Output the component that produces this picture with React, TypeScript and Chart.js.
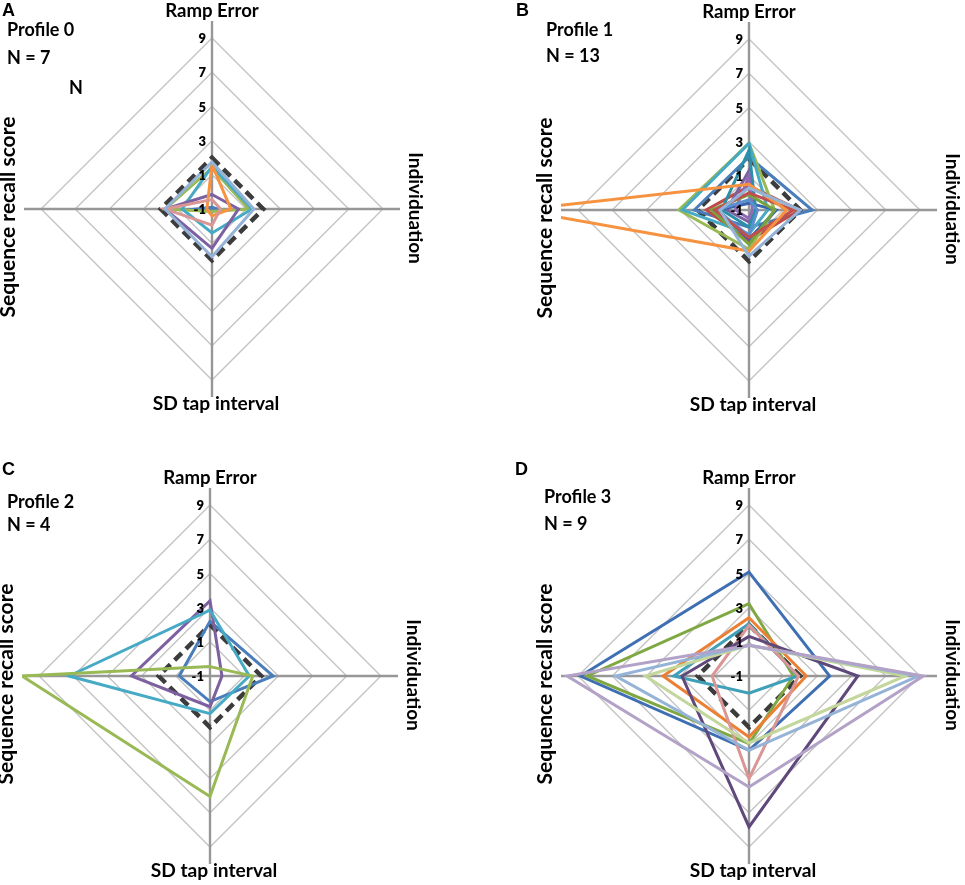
import React, { useEffect, useRef } from 'react';
import { Chart, registerables } from 'chart.js';

Chart.register(...registerables);

// ---------- shared axis data ----------
const axisLabels = ['Ramp Error', 'Individuation', 'SD tap interval', 'Sequence recall score'];
const tickValues = [-1, 1, 3, 5, 7, 9];
const scaleMin = -1;
const scaleMax = 10;
const referenceLine = [2, 2, 2, 2];

// ---------- Profile 0 (N = 7) ----------  [Ramp, Individuation, SD tap, Sequence]
const profile0Colors = ['#4A7EBB', '#98B954', '#46AAC5', '#7D60A0', '#F69240', '#D99694', '#95B3D7'];
const profile0Values = [
  [-0.9, -0.7, -0.9, -0.1],
  [1.4, 1.15, -0.85, 1.75],
  [1.5, 1.35, 0.4, 0.75],
  [-0.15, 0.55, 1.3, 1.75],
  [1.6, 0.1, -0.6, -0.7],
  [-0.45, -0.5, -0.05, 1.75],
  [1.75, 1.45, 1.8, 1.75],
];

// ---------- Profile 1 (N = 13) ----------
const profile1Colors = [
  '#4A7EBB', '#BE4B48', '#98B954', '#7D60A0', '#46AAC5', '#3B64AD', '#2C8FA8',
  '#8E6BB5', '#77A33F', '#5B8FD0', '#C0504D', '#F69240', '#95B3D7',
];
const profile1Values = [
  [2.1, 2.7, 0.0, 2.2],
  [0.4, 1.95, 0.8, 1.5],
  [2.9, 0.5, 1.3, 3.1],
  [1.3, -0.6, -0.3, 0.3],
  [2.9, 0.1, 0.4, 2.9],
  [-0.6, 0.6, 0.7, 0.8],
  [2.5, -0.6, 0.0, 0.6],
  [1.0, -0.8, -0.5, -0.2],
  [-0.1, 0.5, 1.0, 1.2],
  [-0.4, -0.5, 0.5, 0.9],
  [0.0, 1.6, 0.6, 1.0],
  [0.5, 1.2, 1.4, 12.5],
  [0.3, 2.0, 1.7, 0.7],
];

// ---------- Profile 2 (N = 4) ----------
const profile2Colors = ['#4A7EBB', '#7D60A0', '#46AAC5', '#98B954'];
const profile2Values = [
  [2.2, 2.7, 0.5, 0.8],
  [3.4, -0.3, 0.8, 3.6],
  [2.85, 1.3, 1.2, 7.25],
  [-0.45, 1.5, 6.05, 10],
];

// ---------- Profile 3 (N = 9) ----------
const profile3Colors = ['#3F6FB3', '#7FA843', '#EB8035', '#3FA0B8', '#D99694', '#5F497A', '#C3D69B', '#95B3D7', '#B3A2C7'];
const profile3Values = [
  [5.08, 3.72, 3.35, 8.86],
  [3.23, 1.6, 2.96, 8.47],
  [2.41, 2.35, 2.57, 4.03],
  [2.06, 1.85, 0.0, 3.4],
  [1.96, 1.9, 5.0, 1.16],
  [1.32, 5.37, 7.83, 2.92],
  [0.8, 8.14, 2.92, 5.06],
  [0.8, 8.9, 3.35, 6.8],
  [0.8, 9.2, 5.5, 9.64],
];

// ---------- styling / layout ----------
const FONT = 'Lato, "Noto Sans", sans-serif';
const tickFont = `800 13px ${FONT}`;
const profileFont = `bold 18px ${FONT}`;
const letterFont = 'bold 18px "Liberation Sans", Arial, sans-serif';

// title placement per axis index: font size, extra gap beyond outer radius, offsets, rotation
const titlePlacement = [
  { size: 18.6, gap: 4, dx: 0, dy: 0, rot: 0 },
  { size: 19, gap: 9, dx: 0, dy: -1, rot: Math.PI / 2 },
  { size: 19.2, gap: 13, dx: 4, dy: 0, rot: 0 },
  { size: 21, gap: 9, dx: 0, dy: 8, rot: -Math.PI / 2 },
];

const overlayPlugin = {
  id: 'overlay',
  afterDraw(chart: any, _args: any, opts: any) {
    const ctx = chart.ctx;
    const r = chart.scales.r;
    const outer = r.getDistanceFromCenterForValue(r.max);
    ctx.save();
    ctx.fillStyle = '#000';
    // tick labels
    ctx.font = tickFont;
    ctx.textAlign = 'right';
    ctx.textBaseline = 'middle';
    r.ticks.forEach((t: any) => {
      const p = r.getPointPositionForValue(0, t.value);
      ctx.fillText(String(t.label), p.x - 6, p.y + 1);
    });
    // axis titles
    ctx.textAlign = 'center';
    ctx.textBaseline = 'alphabetic';
    chart.data.labels.forEach((lab: string, i: number) => {
      const pl = titlePlacement[i];
      const p = r.getPointPosition(i, outer + pl.gap);
      ctx.save();
      ctx.font = `bold ${pl.size}px ${FONT}`;
      ctx.translate(p.x + pl.dx, p.y + pl.dy);
      ctx.rotate(pl.rot);
      ctx.fillText(lab, 0, 0);
      ctx.restore();
    });
    // panel texts
    ctx.textAlign = 'left';
    (opts.texts || []).forEach((tx: any) => {
      ctx.font = tx.font;
      ctx.fillText(tx.text, tx.x, tx.y);
    });
    ctx.restore();
  },
};

type PanelProps = {
  left: number;
  top: number;
  width: number;
  height: number;
  padding: { left: number; top: number; right: number; bottom: number };
  values: number[][];
  colors: string[];
  texts: { text: string; x: number; y: number; font: string }[];
};

function RadarPanel({ left, top, width, height, padding, values, colors, texts }: PanelProps) {
  const ref = useRef<HTMLCanvasElement>(null);
  useEffect(() => {
    if (!ref.current) return;
    const datasets: any[] = [
      {
        label: 'Reference',
        data: referenceLine,
        borderColor: '#3C3C3C',
        borderWidth: 4.5,
        borderDash: [10, 6],
        borderCapStyle: 'butt',
      },
      ...values.map((v, i) => ({
        label: 'Participant ' + (i + 1),
        data: v,
        borderColor: colors[i],
        borderWidth: 3,
      })),
    ];
    datasets.forEach((d, i) => {
      d.order = datasets.length - i;
      d.clip = 0;
      d.fill = false;
      d.pointRadius = 0;
      d.pointHoverRadius = 0;
      d.backgroundColor = 'transparent';
    });
    const chart = new Chart(ref.current, {
      type: 'radar',
      data: { labels: axisLabels, datasets },
      options: {
        responsive: false,
        animation: false,
        devicePixelRatio: window.devicePixelRatio || 1,
        layout: { padding },
        events: [],
        elements: {
          line: { tension: 0, borderJoinStyle: 'miter' },
          point: { radius: 0 },
        },
        plugins: {
          legend: { display: false },
          tooltip: { enabled: false },
          overlay: { texts },
        } as any,
        scales: {
          r: {
            min: scaleMin,
            max: scaleMax,
            startAngle: 0,
            afterBuildTicks: (s: any) => {
              s.ticks = tickValues.map((v) => ({ value: v }));
            },
            ticks: { display: false },
            pointLabels: { display: false },
            grid: { color: '#C4C4C4', lineWidth: 1.4 },
            angleLines: { color: '#979797', lineWidth: 2.4 },
          } as any,
        },
      } as any,
      plugins: [overlayPlugin as any],
    });
    return () => chart.destroy();
  }, []);
  return (
    <canvas
      ref={ref}
      width={width}
      height={height}
      style={{ position: 'absolute', left, top, width, height }}
    />
  );
}

export default function App() {
  return (
    <div style={{ position: 'absolute', left: 0, top: 0, width: 965, height: 885, background: '#fff', overflow: 'hidden' }}>
      <RadarPanel
        left={0}
        top={0}
        width={482}
        height={440}
        padding={{ left: 24, top: 21, right: 82, bottom: 43 }}
        values={profile0Values}
        colors={profile0Colors}
        texts={[
          { text: 'A', x: 2, y: 16, font: letterFont },
          { text: 'Profile 0', x: 7, y: 36, font: profileFont },
          { text: 'N = 7', x: 7, y: 64, font: profileFont },
          { text: 'N', x: 69, y: 94, font: profileFont },
        ]}
      />
      <RadarPanel
        left={482}
        top={0}
        width={483}
        height={440}
        padding={{ left: 79, top: 22, right: 28, bottom: 42 }}
        values={profile1Values}
        colors={profile1Colors}
        texts={[
          { text: 'B', x: 34, y: 16, font: letterFont },
          { text: 'Profile 1', x: 64, y: 36, font: profileFont },
          { text: 'N = 13', x: 64, y: 62, font: profileFont },
        ]}
      />
      <RadarPanel
        left={0}
        top={440}
        width={482}
        height={445}
        padding={{ left: 22, top: 48, right: 84, bottom: 21 }}
        values={profile2Values}
        colors={profile2Colors}
        texts={[
          { text: 'C', x: 2, y: 35, font: letterFont },
          { text: 'Profile 2', x: 7, y: 68, font: profileFont },
          { text: 'N = 4', x: 7, y: 91, font: profileFont },
        ]}
      />
      <RadarPanel
        left={482}
        top={440}
        width={483}
        height={445}
        padding={{ left: 79, top: 48, right: 28, bottom: 21 }}
        values={profile3Values}
        colors={profile3Colors}
        texts={[
          { text: 'D', x: 33, y: 35, font: letterFont },
          { text: 'Profile 3', x: 62, y: 63, font: profileFont },
          { text: 'N = 9', x: 62, y: 90, font: profileFont },
        ]}
      />
    </div>
  );
}
